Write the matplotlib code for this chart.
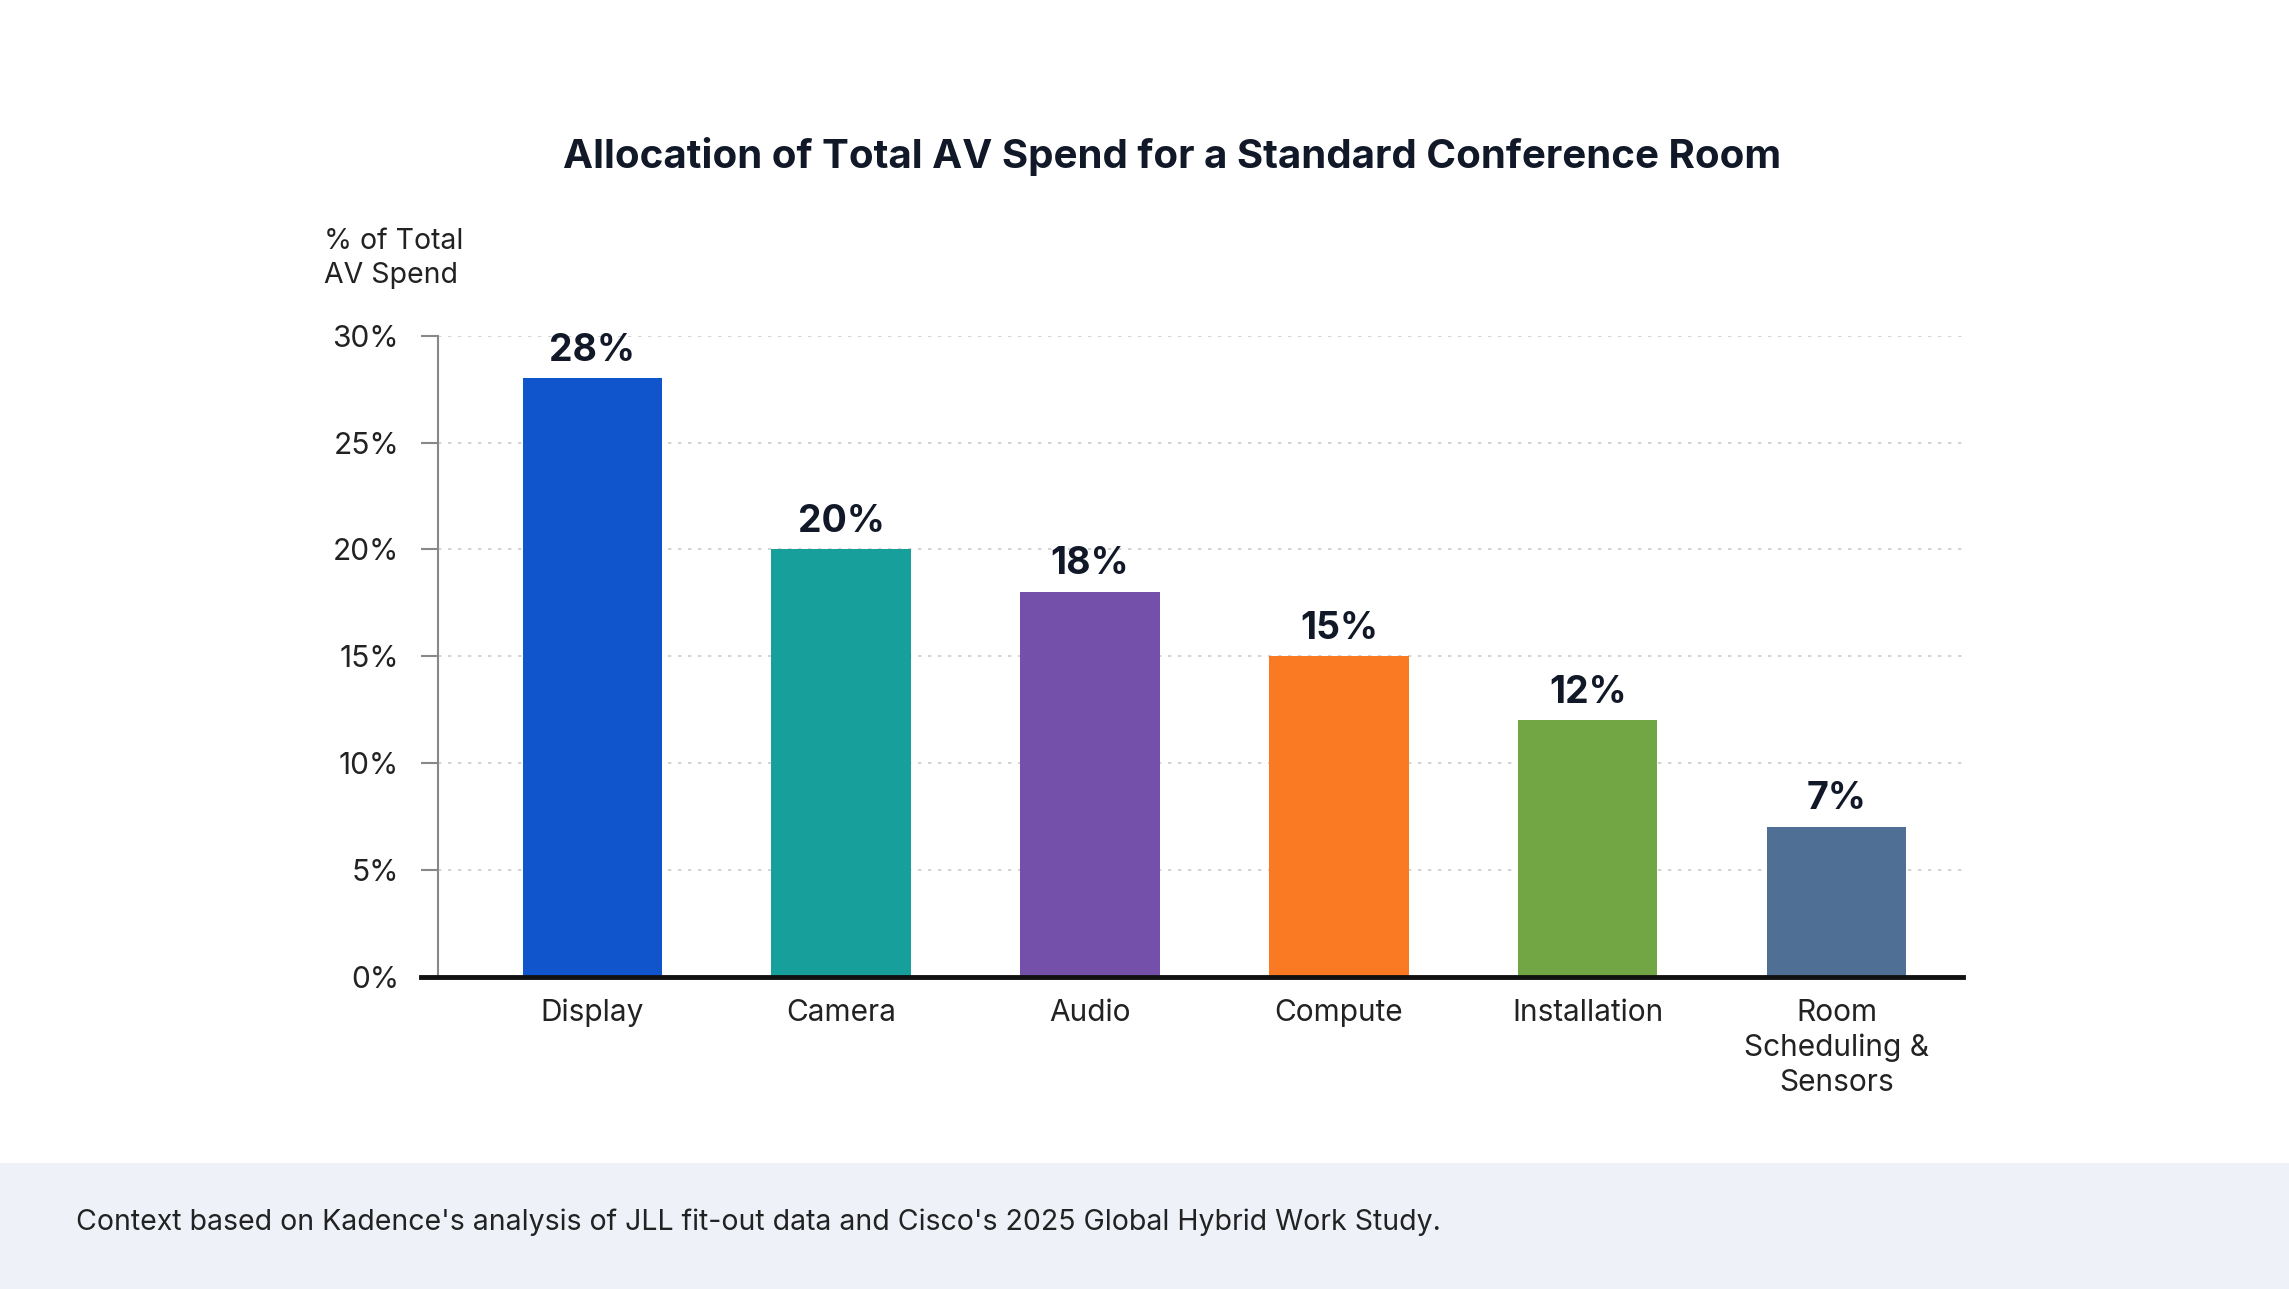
import matplotlib.pyplot as plt
from matplotlib.patches import Rectangle

plt.rcParams['font.family'] = ['Inter', 'DejaVu Sans']

categories = ["Display", "Camera", "Audio", "Compute", "Installation", "Room\nScheduling &\nSensors"]
values = [28, 20, 18, 15, 12, 7]
colors = ["#1155cc", "#17a09b", "#7450ab", "#f97a22", "#72a544", "#4f6f95"]
yticks = [0, 5, 10, 15, 20, 25, 30]

fig = plt.figure(figsize=(22.89, 12.89), dpi=100)
fig.patch.set_facecolor("white")

# footer band
fig.patches.append(Rectangle((0, 0), 1, 86/883, transform=fig.transFigure,
                             facecolor="#eef2f8", edgecolor="none", zorder=0))
fig.text(52/1568, 1 - 837/883, "Context based on Kadence's analysis of JLL fit-out data and Cisco's 2025 Global Hybrid Work Study.",
         fontsize=20.5, color="#222222", va="center", ha="left")

fig.text(803/1568, 1 - 107/883, "Allocation of Total AV Spend for a Standard Conference Room",
         fontsize=29, fontweight="bold", color="#111827", ha="center", va="center")

ax = fig.add_axes([300/1568, 1 - 669/883, 1045/1568, 439/883])
ax.set_facecolor("none")
x = range(len(categories))
ax.bar(x, values, width=0.56, color=colors, zorder=3)
for i, v in zip(x, values):
    ax.text(i, v + 0.45, f"{v}%", ha="center", va="bottom", fontsize=27,
            fontweight="bold", color="#111827")

ax.set_xlim(-0.62, 5.51)
ax.set_ylim(0, 30)
ax.set_yticks(yticks)
ax.set_yticklabels([f"{t}%" for t in yticks], fontsize=21.5, color="#222222")
ax.set_xticks(list(x))
ax.set_xticklabels(categories, fontsize=21.5, color="#222222", linespacing=1.3)
ax.tick_params(axis="x", length=0, pad=16)
ax.tick_params(axis="y", length=12, width=1.5, color="#888888", pad=16)
ax.yaxis.grid(True, linestyle=(0, (2, 4)), color="#cccccc", linewidth=1.2, zorder=0)
for s in ["top", "right"]:
    ax.spines[s].set_visible(False)
ax.spines["left"].set_color("#888888")
ax.spines["left"].set_linewidth(1.5)
ax.spines["bottom"].set_color("#111111")
ax.spines["bottom"].set_linewidth(3.5)
ax.spines["bottom"].set_bounds(-0.69, 5.51)
ax.spines["bottom"].set_zorder(4)

fig.text(222/1568, 1 - 177/883, "% of Total\nAV Spend", fontsize=20.5, color="#222222",
         ha="left", va="center", linespacing=1.35)

fig.savefig("out.png", dpi=100)
